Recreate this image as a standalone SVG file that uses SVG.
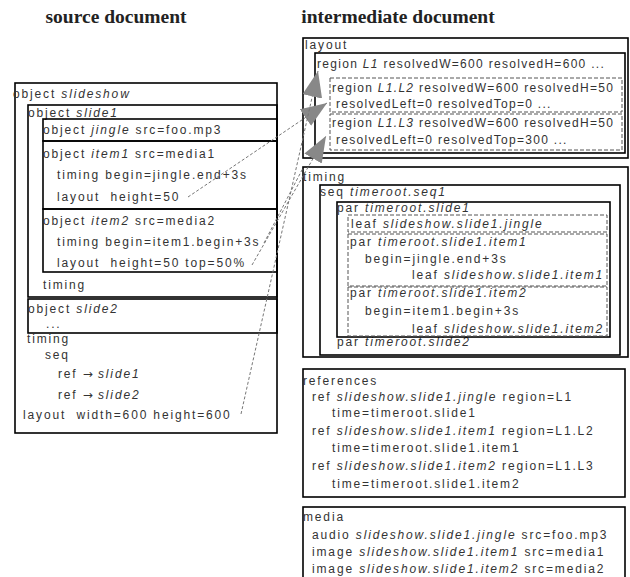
<svg xmlns="http://www.w3.org/2000/svg" width="630" height="577" viewBox="0 0 630 577">
<defs>
<style>
.t{font-family:"Liberation Sans",Arial,"DejaVu Sans",sans-serif;font-size:12px;fill:#333;letter-spacing:1.85px}
.r{letter-spacing:1.3px}
.i{font-style:italic}
.ar{font-family:"DejaVu Sans",sans-serif;letter-spacing:0}
.title{font-family:"Liberation Serif","Times New Roman",serif;font-weight:bold;font-size:19.5px;fill:#222}
.box{fill:none;stroke:#000;stroke-width:1.6}
.dbox{fill:none;stroke:#555;stroke-width:1;stroke-dasharray:4 2}
.conn{fill:none;stroke:#777;stroke-width:1;stroke-dasharray:3 2}
</style>
<marker id="ah" markerUnits="userSpaceOnUse" markerWidth="26" markerHeight="20" refX="26" refY="10" orient="auto">
<path d="M0,0 L26,10 L0,20 z" fill="#888"/>
</marker>
</defs>
<rect width="630" height="577" fill="#fff"/>

<g id="titles">
<text class="title" x="116" y="23" text-anchor="middle">source document</text>
<text class="title" x="398" y="23" text-anchor="middle">intermediate document</text>
</g>

<g id="slideshow">
<rect class="box" x="15" y="83" width="262" height="350"/>
<text class="t" x="13" y="98">object <tspan class="i">slideshow</tspan></text>
<text class="t" x="27" y="343">timing</text>
<text class="t" x="45" y="359">seq</text>
<text class="t" x="58" y="378">ref <tspan class="ar">→</tspan> <tspan class="i">slide1</tspan></text>
<text class="t" x="58" y="399">ref <tspan class="ar">→</tspan> <tspan class="i">slide2</tspan></text>
<text class="t" x="23" y="419" xml:space="preserve">layout  width=600 height=600</text>
</g>
<g id="slide1">
<rect class="box" x="28" y="105" width="249" height="192"/>
<text class="t" x="28" y="117">object <tspan class="i">slide1</tspan></text>
<text class="t" x="43" y="289">timing</text>
</g>
<g id="jingle">
<rect class="box" x="43" y="119" width="234" height="22"/>
<text class="t" x="43" y="134">object <tspan class="i">jingle</tspan> src=foo.mp3</text>
</g>
<g id="item1">
<rect class="box" x="43" y="141" width="234" height="68"/>
<text class="t" x="43" y="158">object <tspan class="i">item1</tspan> src=media1</text>
<text class="t" x="57" y="179">timing begin=jingle.end+3s</text>
<text class="t" x="57" y="201" xml:space="preserve">layout  height=50</text>
</g>
<g id="item2">
<rect class="box" x="43" y="209" width="234" height="63"/>
<text class="t" x="43" y="225">object <tspan class="i">item2</tspan> src=media2</text>
<text class="t" x="57" y="246">timing begin=item1.begin+3s</text>
<text class="t" x="57" y="267" xml:space="preserve">layout  height=50 top=50%</text>
</g>
<g id="slide2">
<rect class="box" x="28" y="299" width="249" height="34"/>
<text class="t" x="28" y="313">object <tspan class="i">slide2</tspan></text>
<text class="t" x="46" y="328">...</text>
</g>

<g id="layout">
<rect class="box" x="303" y="38" width="325" height="120" stroke-width="2"/>
<text class="t" x="305" y="49">layout</text>
</g>
<g id="regionL1">
<rect class="box" x="315" y="53" width="310" height="100"/>
<text class="t r" x="317" y="68">region <tspan class="i">L1</tspan> resolvedW=600 resolvedH=600 ...</text>
</g>
<g id="regionL1L2">
<rect class="dbox" x="330" y="78" width="292" height="34"/>
<text class="t r" x="332" y="92">region <tspan class="i">L1.L2</tspan> resolvedW=600 resolvedH=50</text>
<text class="t r" x="336" y="108">resolvedLeft=0 resolvedTop=0 ...</text>
</g>
<g id="regionL1L3">
<rect class="dbox" x="330" y="114" width="292" height="36"/>
<text class="t r" x="332" y="127">region <tspan class="i">L1.L3</tspan> resolvedW=600 resolvedH=50</text>
<text class="t r" x="336" y="144">resolvedLeft=0 resolvedTop=300 ...</text>
</g>

<g id="timing">
<rect class="box" x="303" y="167" width="325" height="190"/>
<text class="t" x="303" y="181">timing</text>
</g>
<g id="seq1">
<rect class="box" x="320" y="185" width="300" height="170"/>
<text class="t" x="320" y="196">seq <tspan class="i">timeroot.seq1</tspan></text>
<text class="t" x="337" y="346">par <tspan class="i">timeroot.slide2</tspan></text>
</g>
<g id="parSlide1">
<rect class="box" x="337" y="202" width="273" height="135"/>
<text class="t" x="337" y="212">par <tspan class="i">timeroot.slide1</tspan></text>
</g>
<g id="leafJingle">
<rect class="dbox" x="348" y="215" width="259" height="17"/>
<text class="t" x="351" y="228">leaf <tspan class="i">slideshow.slide1.jingle</tspan></text>
</g>
<g id="parItem1">
<rect class="dbox" x="348" y="234" width="259" height="52"/>
<text class="t" x="350" y="246">par <tspan class="i">timeroot.slide1.item1</tspan></text>
<text class="t" x="365" y="263">begin=jingle.end+3s</text>
<text class="t" x="412" y="279">leaf <tspan class="i">slideshow.slide1.item1</tspan></text>
</g>
<g id="parItem2">
<rect class="dbox" x="348" y="287" width="259" height="49"/>
<text class="t" x="350" y="297">par <tspan class="i">timeroot.slide1.item2</tspan></text>
<text class="t" x="365" y="315">begin=item1.begin+3s</text>
<text class="t" x="412" y="333">leaf <tspan class="i">slideshow.slide1.item2</tspan></text>
</g>

<g id="references">
<rect class="box" x="303" y="369" width="322" height="128"/>
<text class="t" x="303" y="385">references</text>
<text class="t" x="312" y="401">ref <tspan class="i">slideshow.slide1.jingle</tspan> region=L1</text>
<text class="t" x="332" y="417">time=timeroot.slide1</text>
<text class="t" x="312" y="435">ref <tspan class="i">slideshow.slide1.item1</tspan> region=L1.L2</text>
<text class="t" x="332" y="452">time=timeroot.slide1.item1</text>
<text class="t" x="312" y="470">ref <tspan class="i">slideshow.slide1.item2</tspan> region=L1.L3</text>
<text class="t" x="332" y="488">time=timeroot.slide1.item2</text>
</g>

<g id="media">
<rect class="box" x="303" y="507" width="322" height="77"/>
<text class="t" x="303" y="521">media</text>
<text class="t" x="312" y="539">audio <tspan class="i">slideshow.slide1.jingle</tspan> src=foo.mp3</text>
<text class="t" x="312" y="556">image <tspan class="i">slideshow.slide1.item1</tspan> src=media1</text>
<text class="t" x="312" y="573">image <tspan class="i">slideshow.slide1.item2</tspan> src=media2</text>
</g>

<g id="connectors">
<line class="conn" x1="188" y1="197" x2="327" y2="103" marker-end="url(#ah)"/>
<line class="conn" x1="264" y1="243" x2="303" y2="168"/>
<line class="conn" x1="252" y1="265" x2="326" y2="136" marker-end="url(#ah)"/>
<line class="conn" x1="241" y1="414" x2="318" y2="71" marker-end="url(#ah)"/>
</g>
</svg>
